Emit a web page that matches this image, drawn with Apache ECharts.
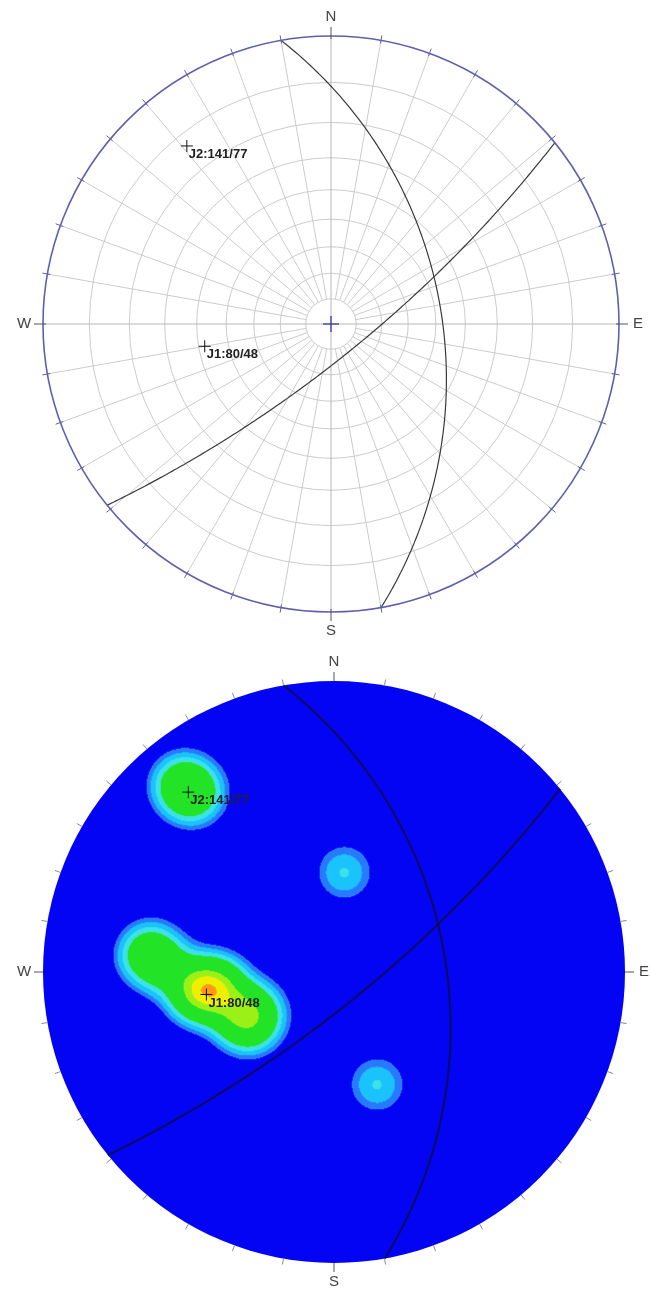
<!DOCTYPE html>
<html><head><meta charset="utf-8">
<script src="https://cdn.jsdelivr.net/npm/echarts@6/dist/echarts.min.js"></script>
<style>html,body{margin:0;padding:0;background:#fff}#c{width:651px;height:1290px}</style>
</head><body><div id="c"></div>
<script>
// ---------- data ----------
const planeNames = ['J1', 'J2'];
const planeDipDir = [80, 141];
const planeDip = [48, 77];
const poleTrend   = [275.3, 270.7, 262.3, 261.7, 249.8, 240.3, 243.1, 321.1, 321.8, 6, 159];
const polePlunge  = [25.4, 31.8, 40.2, 45.8, 50.5, 52.4, 56.2, 10.9, 13.9, 52, 45];
const poleCount   = [4, 2, 7, 6, 3, 4, 2, 3, 3, 1, 1];
const ringPlunges = [10, 20, 30, 40, 50, 60, 70, 80];
const spokeAzimuths = [0,10,20,30,40,50,60,70,80,90,100,110,120,130,140,150,160,170,180,190,200,210,220,230,240,250,260,270,280,290,300,310,320,330,340,350];
const tickAzimuths = spokeAzimuths;
const cardinalLabels = ['N', 'E', 'S', 'W'];
const cardinalAzimuths = [0, 90, 180, 270];
const contourLevels = [0.32, 0.55, 0.96, 1.57, 6, 8.5, 11.2];
const contourColors = ['#2b7cff', '#1cc3fb', '#3fe3e6', '#27e32a', '#9cf01a', '#eef000', '#ff9a1a'];

// ---------- projection helpers (equal-angle, lower hemisphere) ----------
const D2R = Math.PI / 180;
function vecTP(t, p) { return [Math.sin(t*D2R)*Math.cos(p*D2R), Math.cos(t*D2R)*Math.cos(p*D2R), Math.sin(p*D2R)]; }
function stereo(v) { return [v[0]/(1+v[2]), v[1]/(1+v[2])]; }
function proj(t, p) { return stereo(vecTP(t, p)); }
function ringR(p) { return Math.tan((45 - p/2) * D2R); }
function greatCircle(dd, dip) {
  const s = [Math.sin((dd-90)*D2R), Math.cos((dd-90)*D2R), 0];
  const d = [Math.sin(dd*D2R)*Math.cos(dip*D2R), Math.cos(dd*D2R)*Math.cos(dip*D2R), Math.sin(dip*D2R)];
  const pts = [];
  for (let a = 0; a <= 180; a += 0.5) {
    const c = Math.cos(a*D2R), sn = Math.sin(a*D2R);
    pts.push(stereo([c*s[0]+sn*d[0], c*s[1]+sn*d[1], c*s[2]+sn*d[2]]));
  }
  return pts;
}
const planePoles = planeNames.map((n, i) => proj(planeDipDir[i] + 180, 90 - planeDip[i]));
const planeLabels = planeNames.map((n, i) => n + ':' + planeDipDir[i] + '/' + planeDip[i]);

// ---------- density grid ----------
const NCELL = 582;
const SIG = 0.0567;
const poleXY = poleTrend.map((t, i) => proj(t, polePlunge[i]));
const heat = [];
const cats = [];
for (let i = 0; i < NCELL; i++) cats.push(i);
for (let i = 0; i < NCELL; i++) {
  const x = -1 + (i + 0.5) * 2 / NCELL;
  for (let j = 0; j < NCELL; j++) {
    const y = -1 + (j + 0.5) * 2 / NCELL;
    if (x*x + y*y > 1) continue;
    let dens = 0;
    for (let k = 0; k < poleXY.length; k++) {
      const dx = x - poleXY[k][0], dy = y - poleXY[k][1];
      dens += poleCount[k] * Math.exp(-(dx*dx + dy*dy) / (2*SIG*SIG));
    }
    if (dens >= contourLevels[0]) heat.push([i, j, dens]);
  }
}

// ---------- series builders ----------
function netSeries(gi, opt) {
  const list = [];
  const ax = {xAxisIndex: gi, yAxisIndex: gi};
  if (opt.grid) {
    list.push(Object.assign({type: 'custom', z: 2, silent: true, data: ringPlunges.map(p => [0, 0, p]),
      renderItem(params, api) {
        const c = api.coord([0, 0]);
        const r = api.size([ringR(api.value(2)), 0])[0];
        return {type: 'circle', shape: {cx: c[0], cy: c[1], r}, style: {fill: 'none', stroke: '#cccccc', lineWidth: 1}};
      }}, ax));
    list.push(Object.assign({type: 'custom', z: 2, silent: true, data: spokeAzimuths.map(a => [0, 0, a]),
      renderItem(params, api) {
        const a = api.value(2) * D2R;
        const r0 = (api.value(2) % 90 === 0) ? 0 : ringR(80);
        const p1 = api.coord([r0*Math.sin(a), r0*Math.cos(a)]);
        const p2 = api.coord([Math.sin(a), Math.cos(a)]);
        const cardinal = api.value(2) % 90 === 0;
        return {type: 'line', shape: {x1: p1[0], y1: p1[1], x2: p2[0], y2: p2[1]},
          style: {stroke: cardinal ? '#b8b8b8' : '#cccccc', lineWidth: 1}};
      }}, ax));
    // center cross
    list.push(Object.assign({type: 'custom', z: 5, silent: true, data: [[0, 0]],
      renderItem(params, api) {
        const c = api.coord([0, 0]);
        return {type: 'group', children: [
          {type: 'line', shape: {x1: c[0]-8, y1: c[1], x2: c[0]+8, y2: c[1]}, style: {stroke: '#3838a8', lineWidth: 1.3}},
          {type: 'line', shape: {x1: c[0], y1: c[1]-8, x2: c[0], y2: c[1]+8}, style: {stroke: '#3838a8', lineWidth: 1.3}}
        ]};
      }}, ax));
    // primitive circle
    list.push(Object.assign({type: 'custom', z: 4, silent: true, data: [[0, 0]],
      renderItem(params, api) {
        const c = api.coord([0, 0]);
        const r = api.size([1, 0])[0];
        return {type: 'circle', shape: {cx: c[0], cy: c[1], r}, style: {fill: 'none', stroke: '#5f5fae', lineWidth: 1.6}};
      }}, ax));
  }
  if (opt.disc) {
    list.push(Object.assign({type: 'custom', z: 1, silent: true, data: [[0, 0]],
      renderItem(params, api) {
        const c = api.coord([0, 0]);
        const r = api.size([1, 0])[0];
        return {type: 'circle', shape: {cx: c[0], cy: c[1], r}, style: {fill: '#0404f4', stroke: 'none'}};
      }}, ax));
  }
  // perimeter ticks
  list.push(Object.assign({type: 'custom', z: 4, silent: true, data: tickAzimuths.map(a => [0, 0, a]),
    renderItem(params, api) {
      const a = api.value(2) * D2R;
      const c = api.coord([0, 0]);
      const R = api.size([1, 0])[0];
      const card = api.value(2) % 90 === 0;
      const r1 = R - opt.tickIn, r2 = R + (card ? 9 : opt.tickOut);
      const sx = Math.sin(a), sy = -Math.cos(a);
      return {type: 'line', shape: {x1: c[0]+r1*sx, y1: c[1]+r1*sy, x2: c[0]+r2*sx, y2: c[1]+r2*sy},
        style: {stroke: card ? '#555' : opt.tickColor, lineWidth: 1}};
    }}, ax));
  // cardinal labels
  list.push(Object.assign({type: 'custom', z: 6, silent: true, data: cardinalAzimuths.map((a, i) => [0, 0, a, i]),
    renderItem(params, api) {
      const a = api.value(2) * D2R;
      const c = api.coord([0, 0]);
      const R = api.size([1, 0])[0] + 19;
      return {type: 'text', x: c[0] + R*Math.sin(a), y: c[1] - R*Math.cos(a),
        style: {text: cardinalLabels[api.value(3)], fill: '#444', font: '15px "Liberation Sans", Arial, sans-serif', align: 'center', verticalAlign: 'middle'}};
    }}, ax));
  // great circles
  planeNames.forEach((n, i) => {
    list.push(Object.assign({type: 'line', name: n, z: 3, silent: true, clip: false, showSymbol: false, symbol: 'none',
      data: greatCircle(planeDipDir[i], planeDip[i]),
      lineStyle: {color: opt.gcColor, width: opt.gcWidth}}, ax));
  });
  // pole markers with labels
  list.push(Object.assign({type: 'custom', z: 7, silent: true, data: planePoles.map((p, i) => [p[0], p[1], i]),
    renderItem(params, api) {
      const p = api.coord([api.value(0), api.value(1)]);
      return {type: 'group', children: [
        {type: 'line', shape: {x1: p[0]-6, y1: p[1], x2: p[0]+6, y2: p[1]}, style: {stroke: '#111', lineWidth: 1}},
        {type: 'line', shape: {x1: p[0], y1: p[1]-6, x2: p[0], y2: p[1]+6}, style: {stroke: '#111', lineWidth: 1}},
        {type: 'text', x: p[0] + 2, y: p[1] + 2,
          style: {text: planeLabels[api.value(2)], fill: '#222', font: 'bold 13px "Liberation Sans", Arial, sans-serif', align: 'left', verticalAlign: 'top'}}
      ]};
    }}, ax));
  return list;
}

const series = [];
netSeries(0, {grid: true, tickIn: 3, tickOut: 5, tickColor: '#5f5fae', gcColor: '#3a3a3a', gcWidth: 1.2}).forEach(s => series.push(s));
netSeries(1, {disc: true, tickIn: 0, tickOut: 6, tickColor: '#8a8a8a', gcColor: '#0c0c5c', gcWidth: 2}).forEach(s => series.push(s));
const HEAT_IDX = series.length;
series.push({type: 'heatmap', xAxisIndex: 2, yAxisIndex: 2, z: 2, data: heat, progressive: 0, silent: true,
  itemStyle: {borderWidth: 0}, emphasis: {disabled: true}});

const valAxis = (gi) => ({type: 'value', gridIndex: gi, min: -1, max: 1, show: false, splitLine: {show: false}});
const catAxis = (gi) => ({type: 'category', gridIndex: gi, data: cats, show: false, boundaryGap: true});

const chart = echarts.init(document.getElementById('c'), null, {renderer: 'canvas'});
chart.setOption({
  animation: false,
  backgroundColor: '#ffffff',
  grid: [
    {left: 43, top: 36, width: 576, height: 576},
    {left: 43, top: 681, width: 582, height: 582},
    {left: 43, top: 681, width: 582, height: 582}
  ],
  xAxis: [valAxis(0), valAxis(1), catAxis(2)],
  yAxis: [valAxis(0), valAxis(1), catAxis(2)],
  visualMap: {type: 'piecewise', show: false, seriesIndex: HEAT_IDX, dimension: 2,
    pieces: contourLevels.map((lv, i) => i < contourLevels.length - 1
      ? {gte: lv, lt: contourLevels[i+1], color: contourColors[i]}
      : {gte: lv, color: contourColors[i]})},
  series: series
});
</script></body></html>
